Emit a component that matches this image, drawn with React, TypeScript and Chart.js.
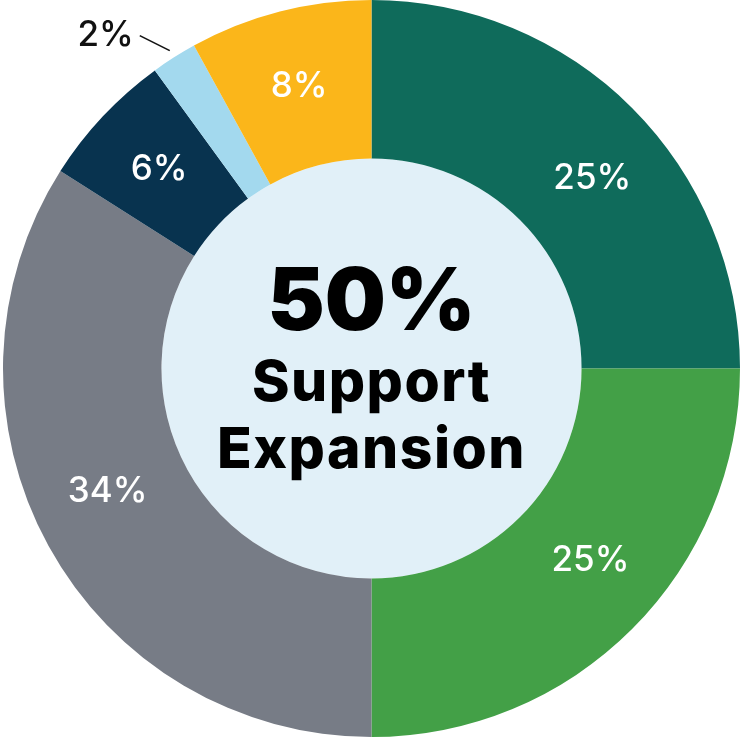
import React, { useEffect, useRef } from "react";
import { Chart, registerables } from "chart.js";

Chart.register(...registerables);

const categories = ["Segment A", "Segment B", "Segment C", "Segment D", "Segment E", "Segment F"];
const values = [25, 25, 34, 6, 2, 8];
const sliceLabels = ["25%", "25%", "34%", "6%", "2%", "8%"];
const colors = ["#0f6b5b", "#43a047", "#777c86", "#08334f", "#a3d9ee", "#fbb61a"];
const centerLines = ["50%", "Support", "Expansion"];

const FONT = "Inter, 'Noto Sans', sans-serif";

const centerPlugin = {
  id: "centerPlugin",
  beforeDatasetsDraw(chart: any) {
    const meta = chart.getDatasetMeta(0);
    const arc = meta.data[0];
    if (!arc) return;
    const ctx = chart.ctx;
    ctx.save();
    ctx.beginPath();
    ctx.arc(arc.x, arc.y, arc.innerRadius, 0, Math.PI * 2);
    ctx.fillStyle = "#e1f0f8";
    ctx.fill();
    ctx.restore();
  },
  afterDatasetsDraw(chart: any) {
    const meta = chart.getDatasetMeta(0);
    const arc0 = meta.data[0];
    if (!arc0) return;
    const ctx = chart.ctx;
    const cx = arc0.x;
    const cy = arc0.y;
    ctx.save();
    ctx.textAlign = "center";
    ctx.textBaseline = "middle";
    ctx.fillStyle = "#000";
    ctx.font = `900 86px ${FONT}`;
    (ctx as any).letterSpacing = "0px";
    ctx.fillText(centerLines[0], cx, cy - 64);
    ctx.font = `800 57px ${FONT}`;
    (ctx as any).letterSpacing = "1.5px";
    ctx.fillText(centerLines[1], cx, cy + 15);
    ctx.fillText(centerLines[2], cx, cy + 82);
    (ctx as any).letterSpacing = "0px";

    // slice labels
    const shifts = [0.075, -0.065, 0.065, 0, 0, 0];
    meta.data.forEach((arc: any, i: number) => {
      const mid = (arc.startAngle + arc.endAngle) / 2 + shifts[i];
      if (values[i] >= 5) {
        const r = (arc.innerRadius + arc.outerRadius) / 2 + 2;
        const x = cx + Math.cos(mid) * r;
        const y = cy + Math.sin(mid) * r;
        ctx.font = `500 35px ${FONT}`;
        ctx.fillStyle = "#ffffff";
        ctx.fillText(sliceLabels[i], x, y);
      } else {
        const r1 = arc.outerRadius + 8;
        const x1 = cx + Math.cos(mid) * r1;
        const y1 = cy + Math.sin(mid) * r1;
        const x2 = x1 - 30;
        const y2 = y1 - 15;
        ctx.beginPath();
        ctx.moveTo(x1, y1);
        ctx.lineTo(x2, y2);
        ctx.strokeStyle = "#111";
        ctx.lineWidth = 1.6;
        ctx.stroke();
        ctx.font = `500 35px ${FONT}`;
        ctx.fillStyle = "#111";
        ctx.textAlign = "right";
        ctx.fillText(sliceLabels[i], x2 - 6, y2);
        ctx.textAlign = "center";
      }
    });
    ctx.restore();
  },
};

export default function App() {
  const ref = useRef<HTMLCanvasElement | null>(null);
  useEffect(() => {
    document.body.style.margin = "0";
    const canvas = ref.current;
    if (!canvas) return;
    const chart = new Chart(canvas, {
      type: "doughnut",
      data: {
        labels: categories,
        datasets: [
          {
            data: values,
            backgroundColor: colors,
            borderWidth: 0,
          },
        ],
      },
      options: {
        responsive: false,
        maintainAspectRatio: false,
        animation: false,
        cutout: "57%",
        layout: { padding: 0 },
        plugins: {
          legend: { display: false },
          tooltip: { enabled: false },
        },
      },
      plugins: [centerPlugin],
    });
    return () => chart.destroy();
  }, []);
  return (
    <div style={{ width: 743, height: 737 }}>
      <canvas ref={ref} width={743} height={737} style={{ display: "block" }} />
    </div>
  );
}
